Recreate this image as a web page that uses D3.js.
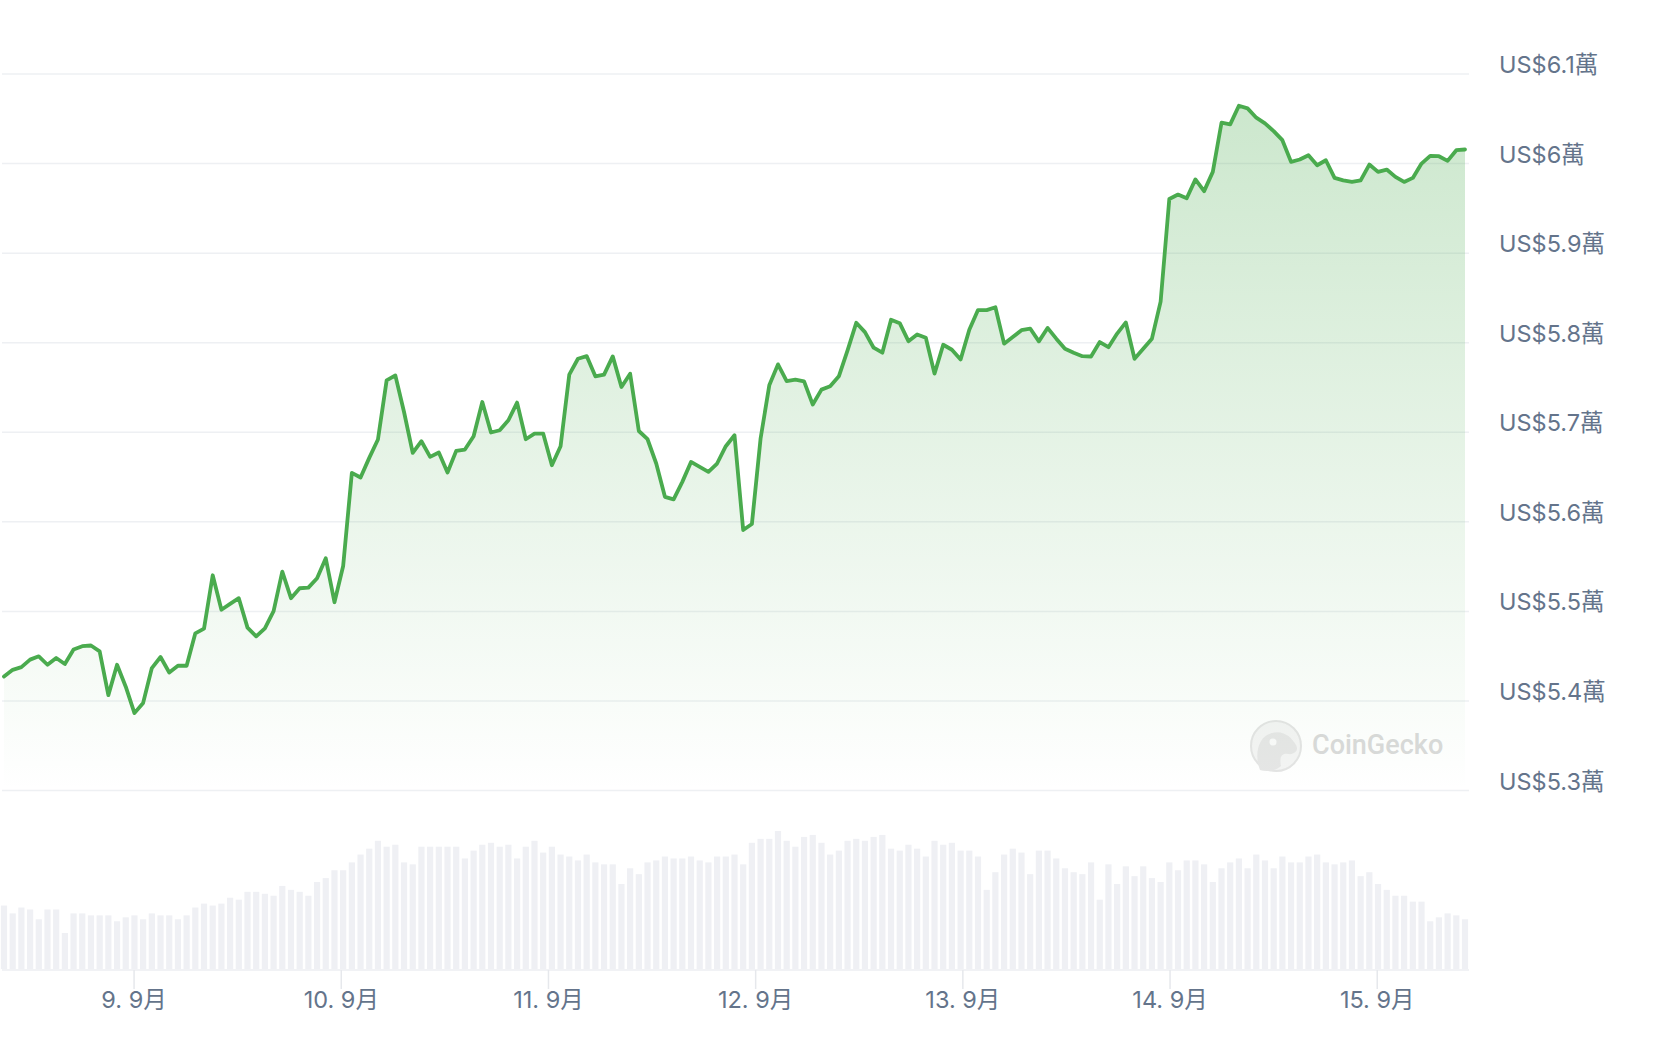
<!DOCTYPE html>
<html>
<head>
<meta charset="utf-8">
<script src="https://cdn.jsdelivr.net/npm/d3@7"></script>
<style>
  html, body { margin: 0; padding: 0; background: #ffffff; }
  svg { display: block; }
  text { font-family: Inter, "Noto Sans CJK TC", "Noto Sans", sans-serif; }
</style>
</head>
<body>
<svg id="chart" width="1656" height="1038"></svg>
<script>
// ---- Data ----
// hourly samples, 8 Sep 2024 08:56 → 15 Sep 2024 ~10:10
const startTime = new Date(2024, 8, 8, 8, 56);
const stepMinutes = 60.44;

const prices = [
  54272, 54347, 54378, 54461, 54498, 54404, 54480, 54412, 54574, 54611,
  54619, 54554, 54065, 54404, 54159, 53864, 53978, 54367, 54491, 54317,
  54393, 54393, 54755, 54808, 55403, 55018, 55083, 55147, 54819, 54721,
  54811, 55003, 55443, 55147, 55258, 55265, 55370, 55593, 55102, 55507,
  56547, 56495, 56714, 56919, 57579, 57635, 57226, 56769, 56900, 56725,
  56774, 56551, 56792, 56807, 56955, 57338, 56997, 57022, 57134, 57331,
  56922, 56985, 56985, 56632, 56844, 57643, 57821, 57850, 57624, 57643,
  57847, 57505, 57654, 57014, 56922, 56651, 56279, 56250, 56446, 56669,
  56613, 56558, 56651, 56844, 56967, 55908, 55975, 56930, 57524, 57758,
  57572, 57587, 57568, 57309, 57476, 57513, 57624, 57914, 58222, 58118,
  57944, 57888, 58256, 58218, 58017, 58092, 58055, 57654, 57977, 57921,
  57813, 58144, 58364, 58364, 58395, 57989, 58063, 58139, 58158, 58015,
  58165, 58045, 57932, 57887, 57849, 57846, 58007, 57950, 58102, 58226,
  57820, 57932, 58045, 58458, 59605, 59654, 59613, 59823, 59692, 59907,
  60456, 60437, 60646, 60616, 60512, 60448, 60362, 60261, 60019, 60045,
  60093, 59981, 60037, 59840, 59813, 59795, 59813, 59989, 59907, 59933,
  59851, 59795, 59840, 60000, 60086, 60082, 60030, 60149, 60157
];

// trading volume (relative, billions USD)
const volumes = [
  19.4, 17.0, 18.8, 18.2, 15.2, 18.2, 18.2, 11.0, 17.0, 17.0,
  16.4, 16.4, 16.4, 14.6, 15.8, 16.4, 15.2, 17.0, 16.4, 16.4,
  15.2, 16.4, 18.8, 20.0, 19.4, 20.0, 21.8, 21.2, 23.6, 23.6,
  23.0, 22.4, 25.4, 24.2, 23.6, 22.4, 26.6, 27.8, 30.2, 30.2,
  32.6, 35.0, 36.8, 39.2, 37.4, 38.0, 32.6, 32.0, 37.4, 37.4,
  37.4, 37.4, 37.4, 33.8, 36.2, 38.0, 38.6, 37.4, 38.0, 33.8,
  37.4, 39.2, 35.6, 37.4, 35.0, 34.4, 33.2, 35.0, 32.6, 32.0,
  32.0, 26.0, 30.8, 29.0, 32.6, 33.2, 34.4, 33.8, 33.8, 34.4,
  33.2, 32.6, 34.4, 34.4, 35.0, 32.0, 38.6, 39.8, 39.8, 42.2,
  39.2, 37.4, 40.4, 41.0, 38.6, 35.0, 36.2, 39.2, 39.8, 39.2,
  40.4, 41.0, 36.8, 36.2, 38.0, 36.8, 34.4, 39.2, 38.0, 38.6,
  36.2, 36.2, 34.4, 24.2, 29.6, 35.0, 36.8, 35.6, 29.0, 36.2,
  36.2, 33.8, 30.8, 29.6, 29.0, 32.6, 21.2, 32.0, 26.0, 31.4,
  28.4, 31.4, 27.8, 26.6, 32.6, 30.2, 33.2, 33.2, 32.0, 26.6,
  30.8, 32.6, 33.8, 30.8, 35.0, 33.2, 30.8, 34.4, 32.6, 32.6,
  34.4, 35.0, 32.6, 32.0, 32.6, 33.2, 28.4, 29.6, 26.0, 24.2,
  22.4, 22.4, 20.6, 20.6, 14.6, 15.8, 17.0, 16.4, 15.2
];

const yTicks = [53000, 54000, 55000, 56000, 57000, 58000, 59000, 60000, 61000];
const yDomain = [53000, 61000];

const times = prices.map((_, i) => new Date(startTime.getTime() + i * stepMinutes * 60000));
const data = prices.map((p, i) => ({ t: times[i], p: p, v: volumes[i] }));

// ---- Layout ----
const svg = d3.select("#chart");
const plotLeft = 4, plotRight = 1465;
const gridLeft = 2, gridRight = 1469;
const priceTop = 74, priceBottom = 790.5;
const volBottom = 969, volTop = 831;

const x = d3.scaleTime().domain([times[0], times[times.length - 1]]).range([plotLeft, plotRight]);
const y = d3.scaleLinear().domain(yDomain).range([priceBottom, priceTop]);
const yv = d3.scaleLinear().domain([0, d3.max(volumes)]).range([volBottom, volTop]);

const green = "#4aab4e";

// gradient
const defs = svg.append("defs");
const grad = defs.append("linearGradient")
  .attr("id", "areaGrad")
  .attr("gradientUnits", "userSpaceOnUse")
  .attr("x1", 0).attr("x2", 0).attr("y1", y(60600)).attr("y2", priceBottom);
grad.append("stop").attr("offset", "0%").attr("stop-color", green).attr("stop-opacity", 0.28);
grad.append("stop").attr("offset", "100%").attr("stop-color", green).attr("stop-opacity", 0.0);

// gridlines
svg.append("g").selectAll("line").data(yTicks).join("line")
  .attr("x1", gridLeft).attr("x2", gridRight)
  .attr("y1", d => y(d)).attr("y2", d => y(d))
  .attr("stroke", "#eef0f3").attr("stroke-width", 1.5);

// y labels
const fmtY = v => "US$" + d3.format("~g")(v / 10000) + "萬";
svg.append("g").selectAll("text").data(yTicks).join("text")
  .attr("x", 1499).attr("y", d => y(d) - 1)
  .attr("fill", "#64748b").attr("font-size", 23.5)
  .text(fmtY);

// watermark
const wm = svg.append("g").attr("opacity", 0.9);
wm.append("circle").attr("cx", 1276).attr("cy", 746).attr("r", 25)
  .attr("fill", "#f3f3f3").attr("stroke", "#e2e2e2").attr("stroke-width", 2);
wm.append("path")
  .attr("d", "M1260,770 C1254,755 1258,736 1272,733 C1284,730 1292,738 1296,745 C1299,750 1295,755 1288,754 C1282,753 1279,757 1281,766 C1276,771 1266,772 1260,770 Z")
  .attr("fill", "#e4e4e4");
wm.append("circle").attr("cx", 1273).attr("cy", 742).attr("r", 3.5).attr("fill", "#fafafa");
wm.append("text").attr("x", 1312).attr("y", 754)
  .attr("font-size", 27).attr("font-weight", 500).attr("fill", "#d6d6d6")
  .style("font-family", "Roboto, Inter, sans-serif")
  .text("CoinGecko");

// area
const area = d3.area().x(d => x(d.t)).y0(priceBottom).y1(d => y(d.p));
svg.append("path").datum(data).attr("d", area).attr("fill", "url(#areaGrad)");

// line
const line = d3.line().x(d => x(d.t)).y(d => y(d.p));
svg.append("path").datum(data).attr("d", line)
  .attr("fill", "none").attr("stroke", green).attr("stroke-width", 3.8)
  .attr("stroke-linejoin", "round").attr("stroke-linecap", "round");

// volume bars
const barW = 6.2;
svg.append("g").selectAll("rect").data(data).join("rect")
  .attr("x", d => x(d.t) - barW / 2)
  .attr("y", d => yv(d.v))
  .attr("width", barW)
  .attr("height", d => volBottom - yv(d.v))
  .attr("fill", "#eff0f4");

// baseline
svg.append("line").attr("x1", gridLeft).attr("x2", gridRight)
  .attr("y1", volBottom + 1).attr("y2", volBottom + 1)
  .attr("stroke", "#eceef2").attr("stroke-width", 1.5);

// x axis
const xTicks = d3.timeDay.range(d3.timeDay.ceil(times[0]), times[times.length - 1]);
const fmtX = d3.timeFormat("%-d. %-m月");
const gx = svg.append("g");
gx.selectAll("line").data(xTicks).join("line")
  .attr("x1", d => x(d)).attr("x2", d => x(d))
  .attr("y1", volBottom + 1).attr("y2", volBottom + 20)
  .attr("stroke", "#e6e8ec").attr("stroke-width", 1.5);
gx.selectAll("text").data(xTicks).join("text")
  .attr("x", d => x(d)).attr("y", volBottom + 39)
  .attr("text-anchor", "middle")
  .attr("fill", "#64748b").attr("font-size", 23.5)
  .text(fmtX);
</script>
</body>
</html>
